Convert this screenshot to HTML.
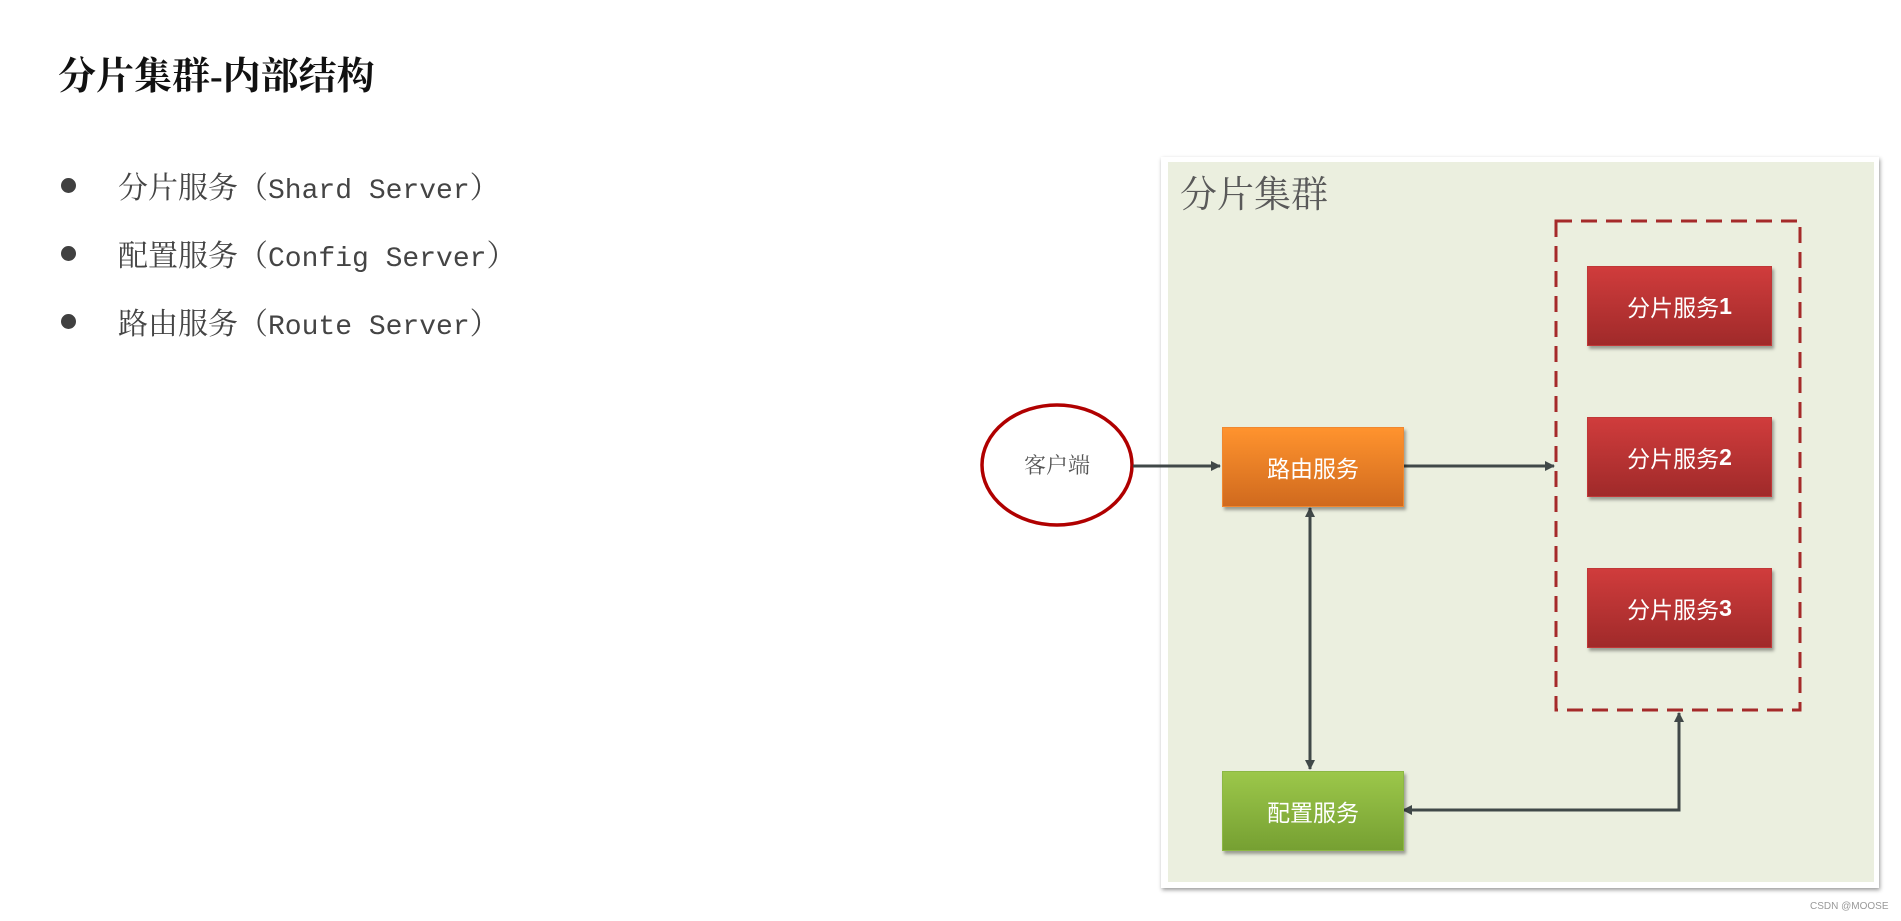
<!DOCTYPE html>
<html><head><meta charset="utf-8"><style>
body{margin:0;width:1901px;height:921px;background:#fff;position:relative;overflow:hidden;font-family:"Liberation Serif","Noto Serif CJK SC",serif;}
.t{position:absolute;white-space:nowrap}
.title{left:58px;top:45px;font-size:38px;color:#111;font-weight:bold;}
.bl{left:118px;font-size:30px;color:#444;}
.bl .l{font-family:"Liberation Mono","Noto Serif CJK SC",monospace;font-size:28px;}
.dot{position:absolute;left:61px;width:15px;height:15px;border-radius:50%;background:#404040}
.box{position:absolute;color:#fff;font-family:"Liberation Sans","Noto Sans CJK SC",sans-serif;font-size:23px;display:flex;align-items:center;justify-content:center;box-shadow:2px 3px 3px rgba(0,0,0,.35)}
</style></head><body>
<div class="t title">分片集群-内部结构</div>
<div class="dot" style="top:178px"></div><div class="t bl" style="top:163px">分片服务（<span class="l">Shard Server</span>）</div>
<div class="dot" style="top:246px"></div><div class="t bl" style="top:231px">配置服务（<span class="l">Config Server</span>）</div>
<div class="dot" style="top:314px"></div><div class="t bl" style="top:299px">路由服务（<span class="l">Route Server</span>）</div>

<div style="position:absolute;left:1161px;top:157px;width:718px;height:731px;background:#fff;box-shadow:1px 2px 4px rgba(0,0,0,.4)"></div>
<div style="position:absolute;left:1168px;top:162px;width:706px;height:720px;background:#EBEFDF"></div>
<div class="t" style="left:1180px;top:164px;font-size:37px;color:#595959">分片集群</div>

<svg width="1901" height="921" style="position:absolute;left:0;top:0">
<defs><marker id="a" markerWidth="10" markerHeight="10" refX="9" refY="5" orient="auto-start-reverse" markerUnits="userSpaceOnUse"><path d="M0,0 L10,5 L0,10z" fill="#404848"/></marker></defs>
<rect x="1556" y="221" width="244" height="489" fill="none" stroke="#A52A2A" stroke-width="3" stroke-dasharray="16,9"/>
<ellipse cx="1057" cy="465" rx="75" ry="60" fill="#fff" stroke="#B00000" stroke-width="3.5"/>
<text x="1057" y="473" text-anchor="middle" font-size="22" fill="#555" font-family="Liberation Serif, Noto Serif CJK SC, serif">客户端</text>
<g stroke="#404848" stroke-width="3" fill="none">
<line x1="1133" y1="466" x2="1220" y2="466" marker-end="url(#a)"/>
<line x1="1402" y1="466" x2="1554" y2="466" marker-end="url(#a)"/>
<line x1="1310" y1="508" x2="1310" y2="769" marker-start="url(#a)" marker-end="url(#a)"/>
<polyline points="1679,713 1679,810 1403,810" marker-start="url(#a)" marker-end="url(#a)"/>
</g>
</svg>

<div class="box" style="left:1222px;top:427px;width:180px;height:78px;background:linear-gradient(#FF932E,#D06A1E);border:1px solid #F08830">路由服务</div>
<div class="box" style="left:1222px;top:771px;width:180px;height:78px;background:linear-gradient(#9CC74A,#76A032);border:1px solid #8CB844">配置服务</div>
<div class="box" style="left:1587px;top:266px;width:183px;height:78px;background:linear-gradient(#D03C3C,#A02A2A);border:1px solid #C03838">分片服务<b>1</b></div>
<div class="box" style="left:1587px;top:417px;width:183px;height:78px;background:linear-gradient(#D03C3C,#A02A2A);border:1px solid #C03838">分片服务<b>2</b></div>
<div class="box" style="left:1587px;top:568px;width:183px;height:78px;background:linear-gradient(#D03C3C,#A02A2A);border:1px solid #C03838">分片服务<b>3</b></div>
<div class="t" style="left:1810px;top:901px;font-size:10px;color:#999;font-family:'Liberation Sans',sans-serif">CSDN @MOOSE</div>
</body></html>
